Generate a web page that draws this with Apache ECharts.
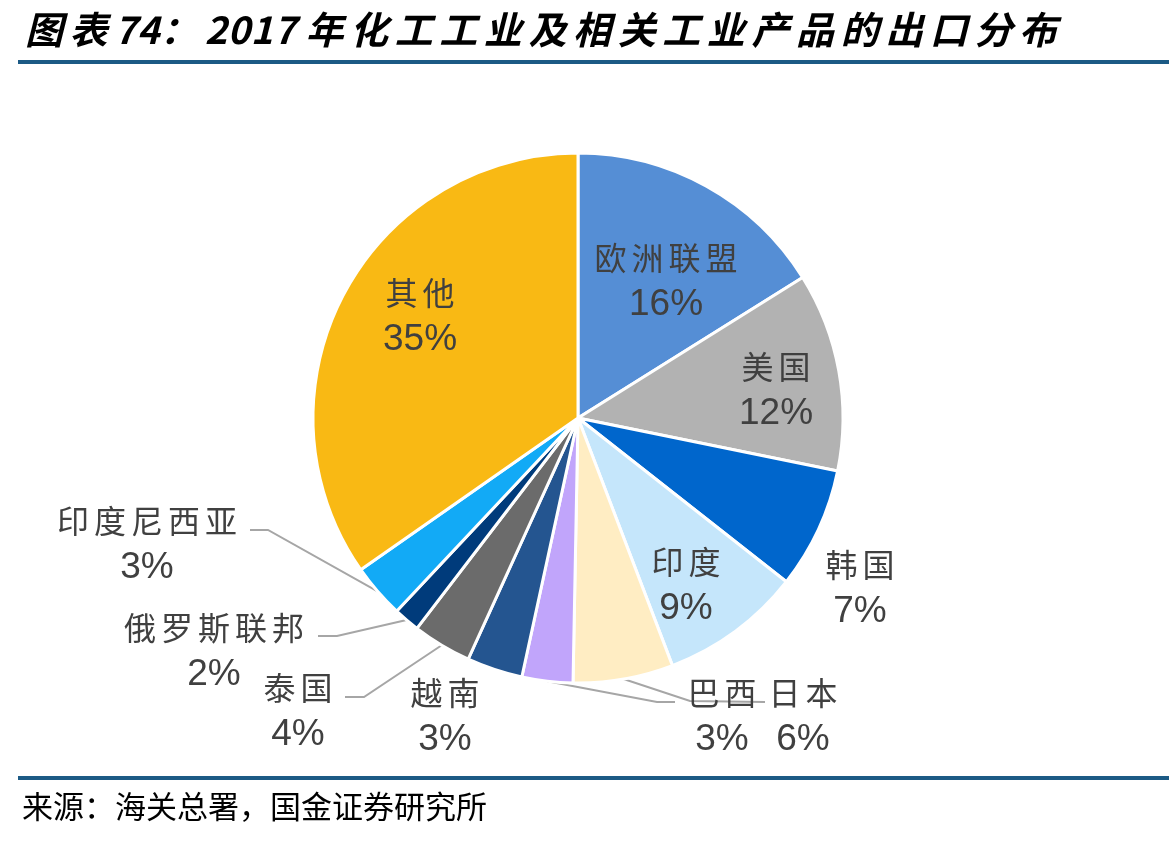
<!DOCTYPE html>
<html>
<head>
<meta charset="utf-8">
<script src="https://cdn.jsdelivr.net/npm/echarts@6/dist/echarts.min.js"></script>
<style>
html,body{margin:0;padding:0;background:#fff;}
#chart{width:1169px;height:841px;}
</style>
</head>
<body>
<div id="chart"></div>
<script>
// 出口分布（%），按顺时针从12点方向开始
var regions = ['欧洲联盟', '美国', '韩国', '印度', '日本', '巴西', '越南', '泰国', '俄罗斯联邦', '印度尼西亚', '其他'];
var shares = [16.1, 12.1, 7.4, 8.6, 6.1, 3.1, 3.4, 3.6, 1.6, 3.3, 34.7];
var colors = ['#558ED5', '#B2B2B2', '#0066CC', '#C5E6FB', '#FFEDC3', '#C1A5FB', '#245590', '#6B6B6B', '#003B7B', '#12AAF6', '#F9B914'];

var titleText = '图表74：2017 年化工工业及相关工业产品的出口分布';
var sourceText = '来源：海关总署，国金证券研究所';

// 标签摆放位置（标签中心）与引导线折点
var labelPos = {
    '欧洲联盟': {x: 666, y: 281},
    '美国': {x: 776, y: 390},
    '韩国': {x: 860, y: 588},
    '印度': {x: 686, y: 585},
    '日本': {x: 803, y: 716, line: [[690, 701], [765, 702]]},
    '巴西': {x: 722, y: 716, line: [[657, 702], [675, 702]]},
    '越南': {x: 445, y: 716},
    '泰国': {x: 298, y: 711, line: [[364, 697], [345, 697]]},
    '俄罗斯联邦': {x: 214, y: 651, line: [[337, 636], [318, 636]]},
    '印度尼西亚': {x: 147, y: 544, line: [[268, 530], [250, 530]]},
    '其他': {x: 420, y: 316}
};

var cjk = '"Noto Sans CJK SC", sans-serif';
var latin = '"Liberation Sans", Arial, sans-serif';

// 原图中汉字字距较宽，把每个字拆成一个富文本片段来加间距（数字不加）
function spaced(str, style, plainStyle) {
    var out = '';
    for (var i = 0; i < str.length; i++) {
        var c = str.charAt(i);
        var s = (plainStyle && c.charCodeAt(0) < 0x2000) ? plainStyle : style;
        out += '{' + s + '|' + c + '}';
    }
    return out;
}

var data = [];
for (var i = 0; i < regions.length; i++) {
    var hasLine = !!labelPos[regions[i]].line;
    data.push({
        name: regions[i],
        value: shares[i],
        itemStyle: {color: colors[i]},
        labelLine: {show: hasLine}
    });
}

var titleFont = {
    fontFamily: cjk,
    fontSize: 38,
    fontWeight: 'bold',
    fontStyle: 'italic',
    color: '#000'
};

var chart = echarts.init(document.getElementById('chart'));

var option = {
    backgroundColor: '#fff',
    animation: false,
    title: {
        text: spaced(titleText, 't', 'd'),
        left: 20,
        top: 6,
        textStyle: {
            rich: {
                t: echarts.util.extend({padding: [0, 6.6, 0, 0]}, titleFont),
                d: echarts.util.extend({padding: [0, 0.5, 0, 0]}, titleFont)
            }
        }
    },
    graphic: [
        {type: 'rect', shape: {x: 18, y: 60, width: 1151, height: 4}, style: {fill: '#1C5A85'}},
        {type: 'rect', shape: {x: 18, y: 776, width: 1151, height: 4}, style: {fill: '#1C5A85'}},
        {type: 'text', left: 22, top: 791, style: {text: sourceText, font: '31px ' + cjk, fill: '#000'}}
    ],
    series: [{
        type: 'pie',
        center: [578, 418],
        radius: 265,
        startAngle: 90,
        clockwise: true,
        avoidLabelOverlap: false,
        itemStyle: {borderColor: '#fff', borderWidth: 3},
        label: {
            show: true,
            position: 'outside',
            formatter: function (p) {
                return spaced(p.name, 'n') + '\n{p|' + Math.round(p.value) + '%}';
            },
            rich: {
                n: {fontFamily: cjk, fontSize: 32, color: '#404040', lineHeight: 47, padding: [0, 2.5, 0, 2.5]},
                p: {fontFamily: latin, fontSize: 37, color: '#404040', lineHeight: 47}
            }
        },
        labelLine: {
            length: 20,
            length2: 20,
            lineStyle: {color: '#A6A6A6', width: 2}
        },
        labelLayout: function (params) {
            var pos = labelPos[regions[params.dataIndex]];
            var res = {x: pos.x, y: pos.y, align: 'center', verticalAlign: 'middle'};
            if (pos.line && params.labelLinePoints) {
                res.labelLinePoints = [params.labelLinePoints[0], pos.line[0], pos.line[1]];
            }
            return res;
        },
        data: data
    }]
};

chart.setOption(option);
</script>
</body>
</html>
